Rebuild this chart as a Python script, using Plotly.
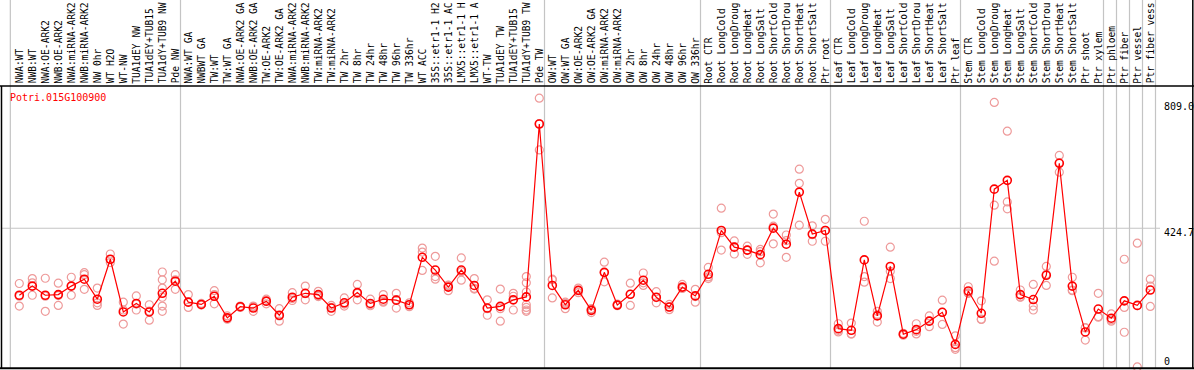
import plotly.graph_objects as go

W, H = 1194, 370

labels = [
    "NWA:WT", "NWB:WT", "NWA:OE-ARK2", "NWB:OE-ARK2", "NWA:miRNA-ARK2", "NWB:miRNA-ARK2",
    "NW 0hr", "WT H2O", "WT-NW", "TUA1dEY NW", "TUA1dEY+TUB15", "TUA1dY+TUB9 NW", "Pde NW",
    "NWA:WT GA", "NWBWT GA", "TW:WT", "TW:WT GA", "NWA:OE-ARK2 GA", "NWB:OE-ARK2 GA",
    "TW:OE-ARK2", "TW:OE-ARK2 GA", "NWA:miRNA-ARK2", "NWB:miRNA-ARK2", "TW:miRNA-ARK2",
    "TW:miRNA-ARK2", "TW 2hr", "TW 8hr", "TW 24hr", "TW 48hr", "TW 96hr", "TW 336hr",
    "WT ACC", "35S::etr1-1 H2", "35S::etr1-1 AC", "LMX5::etr1-1 H", "LMX5::etr1-1 A",
    "WT-TW", "TUA1dEY TW", "TUA1dEY+TUB15", "TUA1dY+TUB9 TW", "Pde TW",
    "OW:WT", "OW:WT GA", "OW:OE-ARK2", "OW:OE-ARK2 GA", "OW:miRNA-ARK2", "OW:miRNA-ARK2",
    "OW 2hr", "OW 8hr", "OW 24hr", "OW 48hr", "OW 96hr", "OW 336hr",
    "Root CTR", "Root LongCold", "Root LongDroug", "Root LongHeat", "Root LongSalt",
    "Root ShortCold", "Root ShortDrou", "Root ShortHeat", "Root ShortSalt", "Ptr root",
    "Leaf CTR", "Leaf LongCold", "Leaf LongDroug", "Leaf LongHeat", "Leaf LongSalt",
    "Leaf ShortCold", "Leaf ShortDrou", "Leaf ShortHeat", "Leaf ShortSalt", "Ptr leaf",
    "Stem CTR", "Stem LongCold", "Stem LongDroug", "Stem LongHeat", "Stem LongSalt",
    "Stem ShortCold", "Stem ShortDrou", "Stem ShortHeat", "Stem ShortSalt", "Ptr shoot",
    "Ptr xylem", "Ptr phloem", "Ptr fiber", "Ptr vessel", "Ptr fiber vess",
]

means = [
    220, 248, 220, 222, 248, 269, 208, 330, 169, 195, 169, 226, 263,
    199, 192, 217, 151, 185, 181, 202, 159, 214, 226, 222, 181, 197, 228, 195, 208,
    205, 191, 336, 297, 245, 297, 250, 181, 186, 206, 215, 743,
    250, 191, 235, 174, 290, 190, 223, 266, 214, 184, 245, 218,
    284, 418, 367, 358, 344, 425, 376, 535, 407, 418,
    118, 113, 328, 157, 308, 101, 115, 141, 168, 70,
    233, 165, 544, 571, 222, 207, 281, 623, 248, 108, 178,
    150, 203, 189, 236,
]

replicates = [
    [256, 187, 217], [271, 258, 220], [272, 171, 217], [257, 189, 219], [275, 220, 249],
    [289, 283, 238], [242, 197, 189], [346, 320, 329], [199, 132, 175], [218, 175, 193],
    [191, 144, 172], [291, 267, 242, 214, 187, 171], [283, 238, 267],
    [222, 183, 199], [195, 190, 192], [234, 194, 222], [157, 147, 149], [187, 183, 185],
    [187, 171, 185], [208, 194, 201], [179, 141, 157], [228, 204, 210], [248, 206, 225],
    [232, 218, 216], [189, 171, 183], [212, 187, 193], [253, 206, 226], [208, 191, 188],
    [222, 199, 202], [226, 181, 207], [197, 185, 191], [364, 352, 296], [339, 277, 269],
    [251, 234, 250], [334, 266, 292], [271, 239, 241], [206, 159, 179], [239, 141, 179],
    [226, 175, 217], [277, 258, 230, 191, 183, 175, 171], [822, 664, 744],
    [267, 269, 212], [199, 179, 195], [242, 228, 235], [179, 167, 176], [321, 261, 289],
    [190, 188, 193], [257, 189, 223], [288, 250, 258], [231, 197, 213], [192, 176, 184],
    [253, 242, 241], [238, 199, 216],
    [305, 271, 276], [486, 358, 411], [386, 346, 368], [370, 345, 358], [360, 319, 353],
    [468, 377, 431], [404, 336, 387], [605, 562, 434], [432, 385, 405], [452, 385, 418],
    [133, 108, 113], [135, 102, 102], [446, 277, 260], [171, 138, 161], [367, 293, 271],
    [100, 104, 98], [133, 102, 110], [157, 124, 141], [205, 131, 168], [96, 55, 60],
    [246, 226, 227], [203, 147, 146], [809, 495, 324], [721, 505, 484], [236, 214, 215],
    [253, 187, 175], [308, 250, 284], [647, 596, 625], [275, 236, 234], [121, 83, 120],
    [226, 155, 153], [163, 141, 145], [330, 183, 107], [379, 1, 188], [269, 248, 186],
]

gene = "Potri.015G100900"
ytick_vals = [809.0, 424.7, 0]
ytick_text = ["809.0", "424.7", "0"]
separators = [-0.69, 12.4, 40.4, 52.4, 62.4, 72.4, 83.4, 84.4, 85.4, 86.4, 87.4]

# pixel <-> data mapping
X0PX, DX = 19.3, 13.0
Y0PX, YS = 367.3, 3.054
xr = [(0 - X0PX) / DX, (W - X0PX) / DX]
yr = [(Y0PX - H) * YS, (Y0PX - 0) * YS]


def py(v):
    return Y0PX - v / YS


def pp_x(px):
    return px / W


def pp_y(px):
    return 1 - px / H


fig = go.Figure()

rx, ry = [], []
for i, reps in enumerate(replicates):
    for r in reps:
        rx.append(i)
        ry.append(r)

fig.add_trace(go.Scatter(
    x=rx, y=ry, mode="markers",
    marker=dict(symbol="circle-open", size=8, color="#ee9a9a", line=dict(width=1.2, color="#ee9a9a")),
    hoverinfo="skip", showlegend=False,
))
fig.add_trace(go.Scatter(
    x=list(range(len(means))), y=means, mode="lines+markers",
    line=dict(color="#ff0000", width=1.2),
    marker=dict(symbol="circle-open", size=8, color="#ff0000", line=dict(width=1.6, color="#ff0000")),
    hoverinfo="skip", showlegend=False,
))

shapes = []
# separators
for s in separators:
    shapes.append(dict(type="line", xref="x", yref="paper", x0=s, x1=s, y0=pp_y(368), y1=1,
                       line=dict(color="#c4c4c4", width=1.2), layer="below"))
# horizontal gridline at 424.7
shapes.append(dict(type="line", xref="paper", yref="y", x0=pp_x(2), x1=pp_x(1160),
                   y0=ytick_vals[1], y1=ytick_vals[1], line=dict(color="#c4c4c4", width=1.2), layer="below"))
# black frame
shapes.append(dict(type="line", xref="paper", yref="paper", x0=0, x1=1, y0=pp_y(86), y1=pp_y(86),
                   line=dict(color="black", width=1.5)))
shapes.append(dict(type="line", xref="paper", yref="paper", x0=0, x1=1, y0=pp_y(368.3), y1=pp_y(368.3),
                   line=dict(color="black", width=2)))
shapes.append(dict(type="line", xref="paper", yref="paper", x0=pp_x(1.5), x1=pp_x(1.5), y0=pp_y(368.3), y1=pp_y(86),
                   line=dict(color="black", width=1.5)))
shapes.append(dict(type="line", xref="paper", yref="paper", x0=pp_x(1192.8), x1=pp_x(1192.8), y0=pp_y(368.3), y1=1,
                   line=dict(color="black", width=1.5)))

annotations = []
mono = "DejaVu Sans Mono"
for i, lab in enumerate(labels):
    annotations.append(dict(
        x=i, y=pp_y(84.5), xref="x", yref="paper", text=lab, showarrow=False,
        textangle=-90, xanchor="center", yanchor="bottom", borderpad=0,
        font=dict(family=mono, size=9.6, color="black"),
    ))
annotations.append(dict(x=pp_x(9), y=pp_y(97), xref="paper", yref="paper", text=gene,
                        showarrow=False, xanchor="left", yanchor="middle", borderpad=0,
                        font=dict(family=mono, size=10, color="#ff0000")))
for v, t in zip(ytick_vals, ytick_text):
    ytop = py(v) - 2.5 if v > 0 else 355
    annotations.append(dict(x=pp_x(1163), y=pp_y(ytop), xref="paper", yref="paper", text=t,
                            showarrow=False, xanchor="left", yanchor="top", borderpad=0,
                            font=dict(family=mono, size=10, color="black")))

fig.update_layout(
    width=W, height=H, margin=dict(l=0, r=0, t=0, b=0, pad=0),
    paper_bgcolor="white", plot_bgcolor="white",
    xaxis=dict(range=xr, visible=False, fixedrange=True),
    yaxis=dict(range=yr, visible=False, fixedrange=True),
    shapes=shapes, annotations=annotations,
)

fig.write_html(
    "out.html",
    config={"displayModeBar": False},
    post_script="document.body.style.margin='0';document.body.style.padding='0';document.body.style.overflow='hidden';",
)
